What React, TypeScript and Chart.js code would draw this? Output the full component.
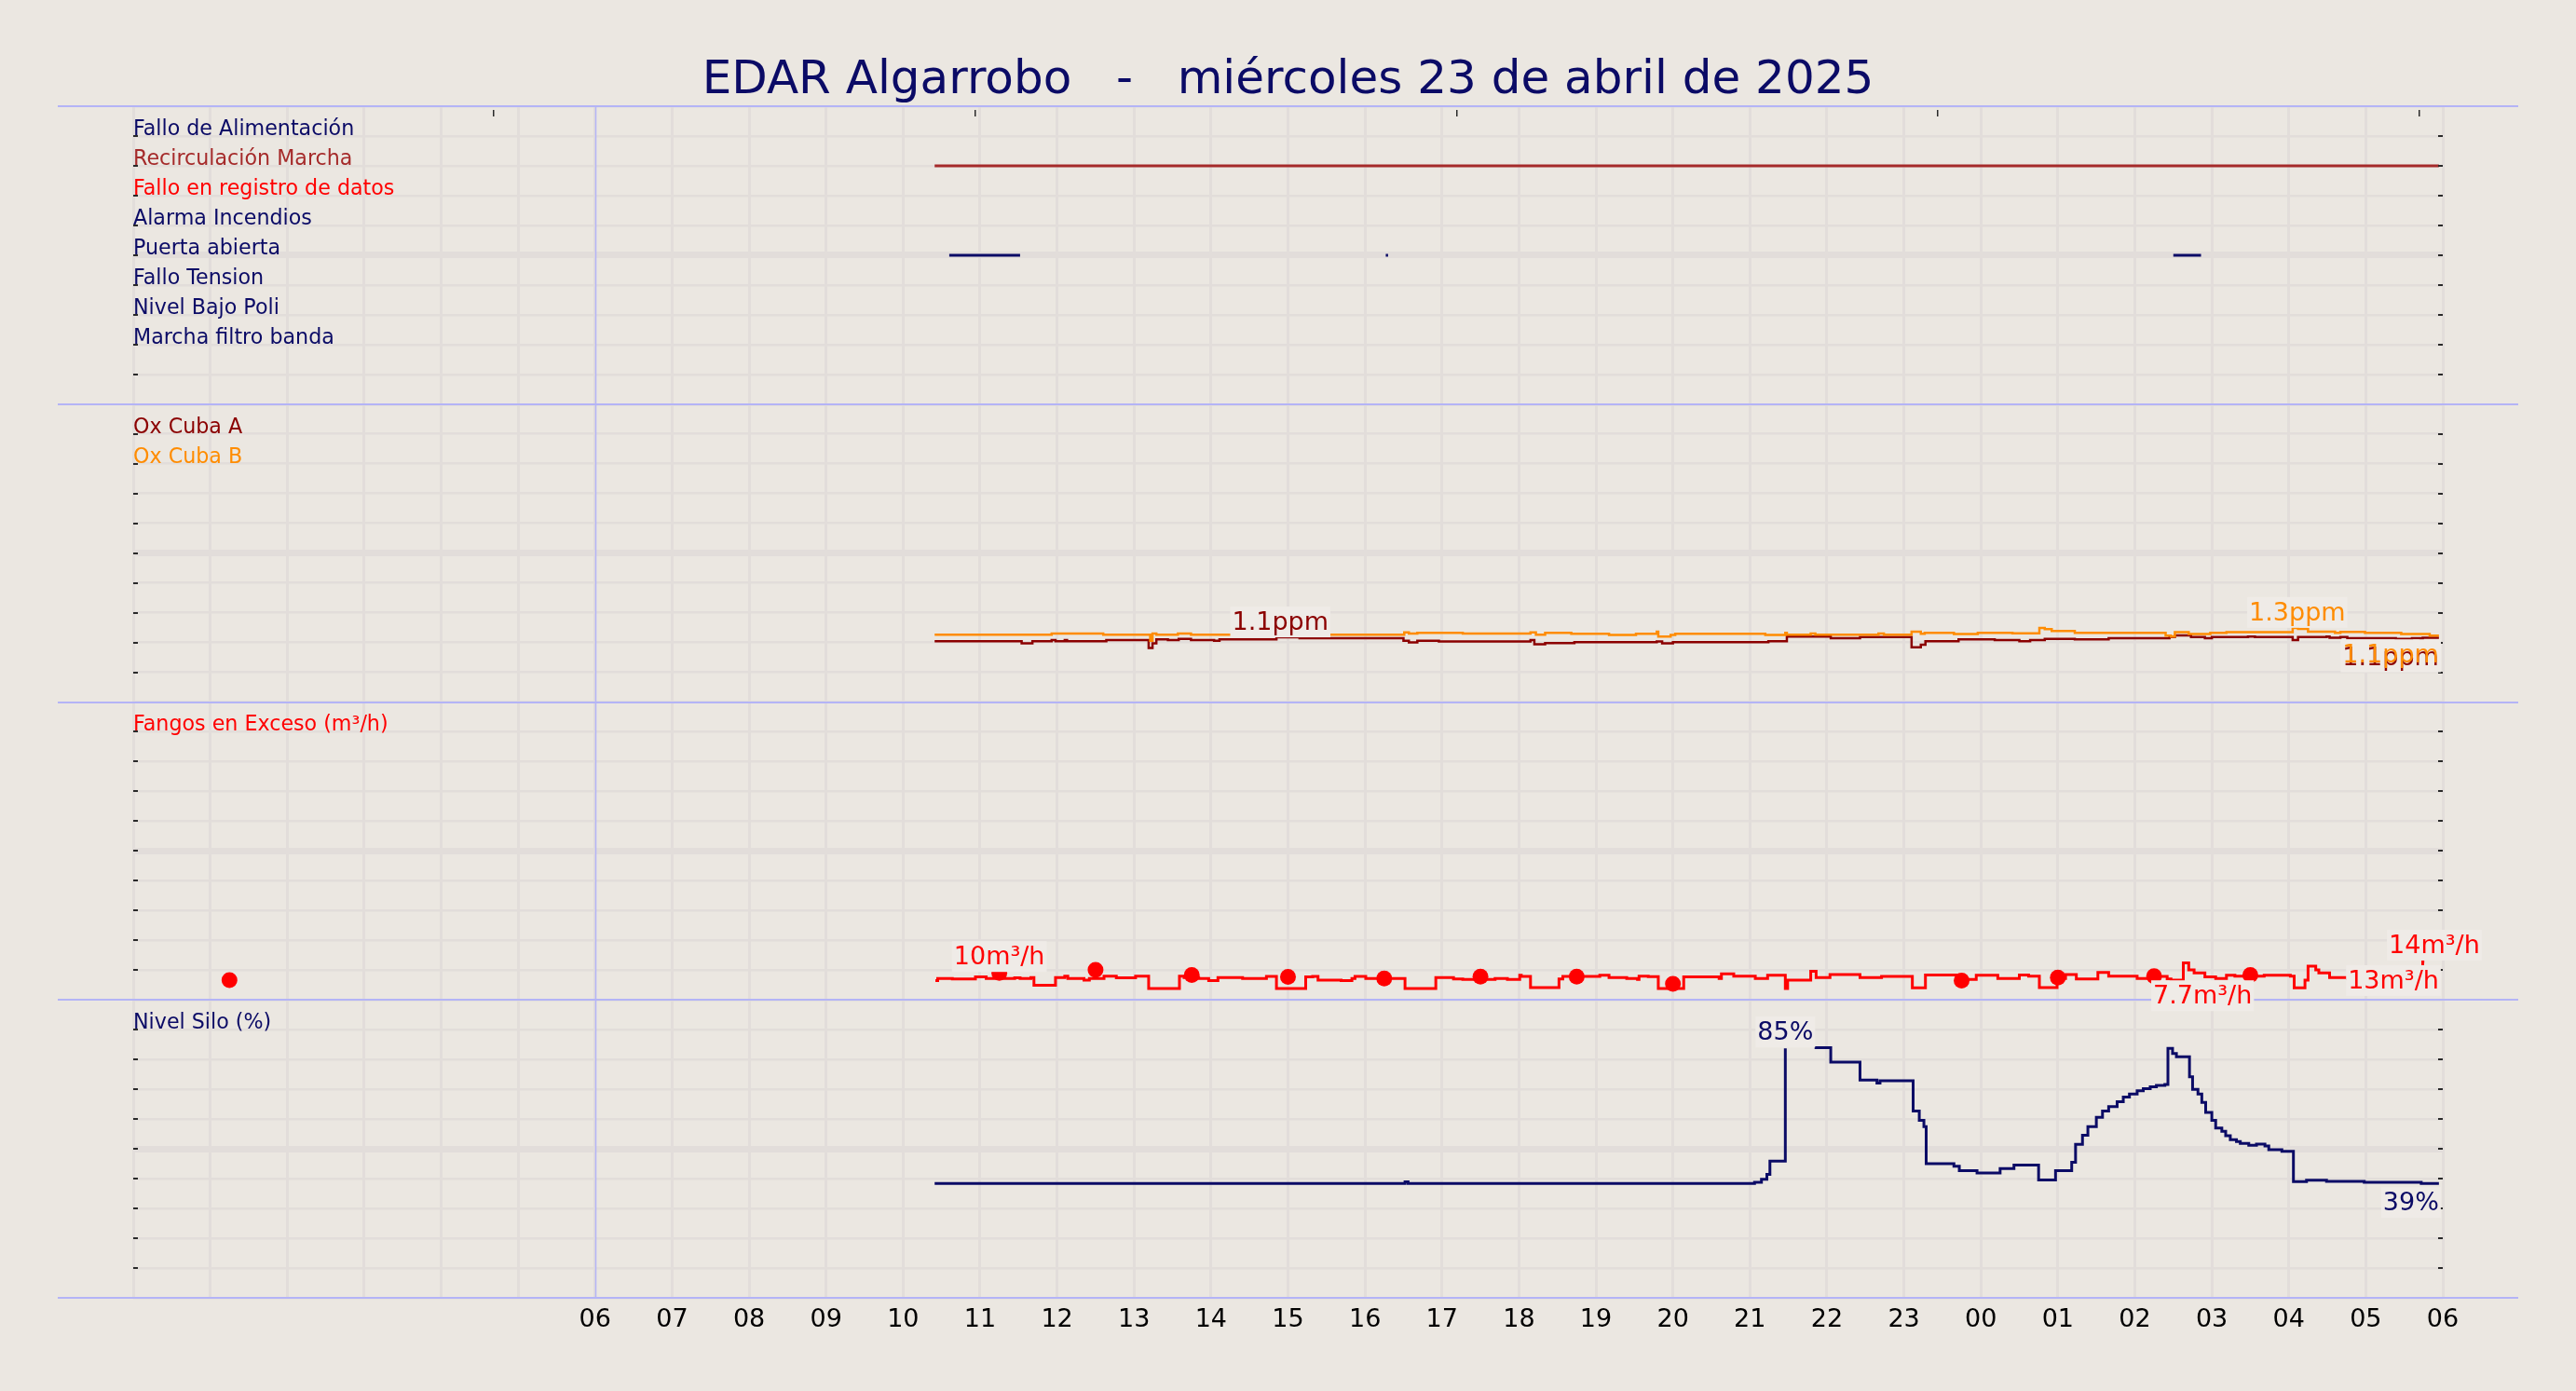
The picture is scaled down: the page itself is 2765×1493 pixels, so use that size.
import React, { useEffect, useRef } from 'react';
import { Chart, registerables } from 'chart.js';

Chart.register(...registerables);

const W = 2765;
const H = 1493;
const FONT = '"DejaVu Sans", "Liberation Sans", sans-serif';
const BG = '#ebe7e1';
const BOX = '#efebe7';
const GRID = '#e2ddda';
const LAVENDER = '#b4b4f6';
const NAVY = '#0b0b66';
const BROWN = '#a52a2a';
const RED = '#ff0000';
const DARKRED = '#8b0000';
const ORANGE = '#ff8c00';
const TICKMARK = '#2a2a2a';

const TITLE = 'EDAR Algarrobo   -   miércoles 23 de abril de 2025';

// x axis: hours counted from 00:00 of 23/04/2025
const X_MIN = 0;
const X_MAX = 30;
const FIRST_LABEL_HOUR = 6;
const DAY_MARK_HOUR = 6;
const END_HOUR = 29.95;
const FANGOS_END_HOUR = 29.76;
const TOP_TICK_HOURS = [4.68, 10.94, 17.2, 23.44, 29.7];

// ---------- Panel 1: digital signals ----------
const SIGNAL_LABELS = [
  'Fallo de Alimentación',
  'Recirculación Marcha',
  'Fallo en registro de datos',
  'Alarma Incendios',
  'Puerta abierta',
  'Fallo Tension',
  'Nivel Bajo Poli',
  'Marcha filtro banda',
];
const SIGNAL_COLORS = [NAVY, BROWN, RED, NAVY, NAVY, NAVY, NAVY, NAVY];
const SIGNAL_LEVELS = [9, 8, 7, 6, 5, 4, 3, 2];
const SIGNAL_ON: number[][][] = [
  [],
  [[10.41, 29.95]],
  [],
  [],
  [[10.6, 11.52], [16.27, 16.3], [26.5, 26.86]],
  [],
  [],
  [],
];

// ---------- Panel 2: oxygen (ppm) ----------
const OXA_T = [10.41, 11.54, 11.68, 11.93, 11.98, 12.1, 12.13, 12.64, 13.19, 13.24, 13.29, 13.44, 13.58, 13.74, 14.04, 14.11, 14.85, 15.15, 16.5, 16.57, 16.68, 16.96, 18.15, 18.2, 18.34, 18.72, 19.79, 19.86, 20.0, 21.24, 21.48, 22.05, 22.43, 23.1, 23.22, 23.28, 23.71, 24.18, 24.5, 24.64, 24.83, 25.22, 25.66, 26.45, 26.52, 26.73, 26.91, 27.0, 27.47, 27.56, 28.05, 28.12, 28.49, 28.53, 28.67, 28.76, 29.39, 29.6, 29.71, 29.74];
const OXA_V = [1.02, 0.984, 1.02, 1.04, 1.02, 1.04, 1.02, 1.04, 0.906, 0.984, 1.05, 1.04, 1.06, 1.04, 1.03, 1.05, 1.085, 1.07, 1.03, 1.0, 1.03, 1.016, 1.04, 0.97, 0.99, 1.005, 1.016, 0.984, 1.005, 1.02, 1.1, 1.07, 1.09, 0.92, 0.963, 1.02, 1.05, 1.04, 1.02, 1.04, 1.06, 1.05, 1.07, 1.09, 1.12, 1.09, 1.07, 1.09, 1.1, 1.09, 1.04, 1.09, 1.1, 1.078, 1.09, 1.07, 1.06, 1.07, 0.92, 1.078];
const OXB_T = [10.41, 11.93, 12.6, 13.21, 13.24, 13.29, 13.57, 13.74, 16.51, 16.57, 16.68, 17.27, 18.15, 18.22, 18.34, 18.68, 19.17, 19.52, 19.79, 19.81, 19.97, 20.03, 21.2, 21.46, 21.48, 21.79, 21.85, 22.67, 22.74, 23.1, 23.22, 23.27, 23.65, 23.96, 24.41, 24.76, 24.83, 24.92, 25.22, 26.4, 26.47, 26.52, 26.7, 26.98, 27.19, 28.05, 28.12, 28.25, 28.6, 28.67, 28.99, 29.46, 29.83];
const OXB_V = [1.13, 1.15, 1.13, 1.03, 1.15, 1.13, 1.15, 1.13, 1.17, 1.15, 1.16, 1.15, 1.17, 1.13, 1.16, 1.145, 1.125, 1.145, 1.18, 1.1, 1.125, 1.145, 1.125, 1.16, 1.13, 1.15, 1.13, 1.15, 1.13, 1.18, 1.145, 1.16, 1.14, 1.16, 1.155, 1.245, 1.224, 1.193, 1.161, 1.115, 1.1, 1.172, 1.141, 1.161, 1.172, 1.245, 1.229, 1.182, 1.161, 1.177, 1.161, 1.141, 1.115];

// ---------- Panel 3: excess sludge (m3/h) ----------
const FANGOS_T = [10.42, 10.45, 10.64, 10.94, 11.08, 11.45, 11.52, 11.66, 11.7, 11.98, 12.1, 12.14, 12.35, 12.42, 12.61, 12.77, 13.02, 13.19, 13.59, 13.65, 13.84, 13.97, 14.09, 14.41, 14.72, 14.85, 15.23, 15.32, 15.39, 15.69, 15.83, 15.87, 16.01, 16.52, 16.92, 17.15, 17.27, 17.69, 17.85, 18.01, 18.03, 18.15, 18.52, 18.57, 19.05, 19.17, 19.4, 19.54, 19.56, 19.68, 19.81, 20.14, 20.6, 20.63, 20.79, 21.07, 21.23, 21.46, 21.49, 21.79, 21.86, 22.04, 22.43, 22.71, 23.11, 23.28, 23.71, 23.94, 24.22, 24.5, 24.62, 24.76, 24.99, 25.1, 25.24, 25.52, 25.66, 26.03, 26.17, 26.42, 26.47, 26.63, 26.7, 26.77, 26.91, 27.05, 27.19, 27.3, 27.68, 28.02, 28.07, 28.21, 28.25, 28.35, 28.39, 28.53, 28.76, 29.04, 29.41, 29.69, 29.74];
const FANGOS_V = [7.75, 8.6, 8.4, 9.25, 8.6, 8.9, 8.6, 9.0, 5.9, 9.0, 9.6, 8.6, 8.0, 8.6, 9.6, 8.9, 9.6, 4.6, 9.6, 9.0, 8.6, 7.75, 9.0, 8.6, 9.5, 4.6, 9.25, 9.5, 8.0, 7.75, 8.6, 9.5, 8.6, 4.6, 9.0, 8.4, 8.25, 8.6, 8.25, 9.9, 9.5, 5.0, 8.4, 9.5, 9.9, 9.0, 8.6, 8.25, 9.6, 9.4, 4.6, 9.25, 8.6, 10.5, 9.6, 8.6, 9.9, 4.6, 8.0, 11.5, 9.0, 10.25, 9.0, 9.5, 4.9, 10.0, 8.25, 9.9, 8.6, 10.0, 9.6, 5.0, 8.6, 10.25, 8.4, 11.1, 9.6, 8.6, 9.5, 8.4, 8.0, 14.9, 12.1, 10.9, 9.25, 8.6, 9.9, 9.6, 9.9, 9.6, 4.9, 8.0, 13.6, 12.1, 10.9, 9.0, 8.6, 9.25, 8.9, 4.25, 15.5];
const FANGOS_DOT_T = [1.25, 11.25, 12.5, 13.75, 15.0, 16.25, 17.5, 18.75, 20.0, 23.75, 25.0, 26.25, 27.5];
const FANGOS_DOT_V = [8.0, 10.9, 12.1, 10.0, 9.25, 8.6, 9.4, 9.4, 6.5, 7.75, 9.0, 9.6, 10.0];

// ---------- Panel 4: silo level (%) ----------
// null = no data recorded (gap in the trace)
const SILO_T = [10.41, 16.52, 16.56, 21.06, 21.15, 21.22, 21.26, 21.46, 21.47, 21.84, 22.05, 22.43, 22.65, 22.69, 23.12, 23.2, 23.26, 23.29, 23.65, 23.72, 23.95, 24.25, 24.43, 24.75, 24.97, 25.18, 25.23, 25.32, 25.39, 25.5, 25.58, 25.66, 25.77, 25.85, 25.93, 26.03, 26.11, 26.2, 26.28, 26.39, 26.43, 26.49, 26.54, 26.71, 26.75, 26.82, 26.87, 26.92, 27.0, 27.05, 27.13, 27.18, 27.24, 27.32, 27.37, 27.48, 27.58, 27.69, 27.74, 27.91, 28.06, 28.23, 28.49, 28.98, 29.72];
const SILO_V: (number | null)[] = [38.4, 38.9, 38.4, 38.75, 39.8, 41.4, 45.9, 83.75, null, 84.0, 79.1, 73.1, 72.1, 72.9, 62.7, 59.6, 57.5, 45.0, 44.2, 42.7, 41.9, 43.4, 44.6, 39.6, 42.7, 45.5, 51.5, 54.6, 57.5, 60.6, 62.7, 64.2, 65.8, 67.4, 68.4, 69.5, 70.2, 70.8, 71.3, 71.6, 83.75, 82.0, 80.9, 74.2, 70.0, 68.4, 65.6, 62.2, 59.6, 57.0, 55.9, 54.4, 53.1, 52.5, 51.8, 51.25, 51.6, 51.0, 49.7, 49.2, 39.0, 39.5, 39.1, 38.75, 38.4];

// ---------- Value annotations ----------
const ANN_TEXT = ['1.1ppm', '1.3ppm', '1.1ppm', '1.1ppm', '10m³/h', '7.7m³/h', '14m³/h', '13m³/h', '85%', '39%'];
const ANN_AXIS = ['yOx', 'yOx', 'yOx', 'yOx', 'yFan', 'yFan', 'yFan', 'yFan', 'ySilo', 'ySilo'];
const ANN_X = [14.9, 28.11, 29.95, 29.95, 11.25, 26.88, 29.89, 29.95, 21.46, 29.95];
const ANN_V = [1.07, 1.23, 1.078, 1.115, 10.9, 9.4, 15.5, 15.5, 83.75, 38.4];
const ANN_COLOR = [DARKRED, ORANGE, DARKRED, ORANGE, RED, RED, RED, RED, NAVY, NAVY];
const ANN_POS = ['above', 'above', 'below', 'below', 'above', 'below', 'above', 'below', 'above', 'below'];
const ANN_ALIGN = ['center', 'center', 'right', 'right', 'center', 'center', 'center', 'right', 'center', 'right'];

// panels from top to bottom
const PANELS = ['ySig', 'yOx', 'yFan', 'ySilo'];
const PANEL_LABELS: Record<string, string[]> = {
  ySig: SIGNAL_LABELS,
  yOx: ['Ox Cuba A', 'Ox Cuba B'],
  yFan: ['Fangos en Exceso (m³/h)'],
  ySilo: ['Nivel Silo (%)'],
};
const PANEL_LABEL_COLORS: Record<string, string[]> = {
  ySig: SIGNAL_COLORS,
  yOx: [DARKRED, ORANGE],
  yFan: [RED],
  ySilo: [NAVY],
};

type Pt = { x: number; y: number | null };

function stepSeries(t: number[], v: (number | null)[], end: number = END_HOUR): Pt[] {
  const pts: Pt[] = t.map((x, i) => ({ x, y: v[i] }));
  pts.push({ x: end, y: v[v.length - 1] });
  return pts;
}

function onOffSeries(intervals: number[][], level: number): Pt[] {
  const pts: Pt[] = [];
  intervals.forEach(([a, b]) => {
    pts.push({ x: a, y: level }, { x: b, y: level }, { x: b + 0.001, y: null });
  });
  return pts;
}

function yScale(min: number, max: number, step: number, weight: number) {
  return {
    type: 'linear',
    min,
    max,
    position: 'left',
    stack: 'panels',
    stackWeight: 1,
    weight,
    ticks: { display: false, stepSize: step },
    grid: {
      color: GRID,
      lineWidth: (c: any) => (c.index === 5 ? 7 : 2.5),
      drawTicks: false,
    },
    border: { display: false },
    afterFit: (s: any) => {
      s.width = 0;
    },
  };
}

const decorPlugin = {
  id: 'decor',
  beforeDraw(chart: any) {
    const { ctx, width, height } = chart;
    ctx.save();
    ctx.fillStyle = BG;
    ctx.fillRect(0, 0, width, height);
    ctx.restore();
  },
  afterDatasetsDraw(chart: any) {
    const { ctx, chartArea: ca, scales } = chart;
    const xs = scales.x;
    ctx.save();

    // small tick marks at both sides of every panel
    ctx.fillStyle = TICKMARK;
    PANELS.forEach((id) => {
      const sc = scales[id];
      sc.ticks.forEach((t: any) => {
        const y = Math.round(sc.getPixelForValue(t.value));
        ctx.fillRect(ca.left, y - 1, 5, 2);
        ctx.fillRect(ca.right - 5, y - 1, 5, 2);
      });
    });
    // top tick marks
    TOP_TICK_HOURS.forEach((h) => {
      const px = Math.round(xs.getPixelForValue(h));
      ctx.fillRect(px - 1, ca.top + 4, 1.5, 7);
    });

    // panel boundary lines
    ctx.strokeStyle = LAVENDER;
    ctx.lineWidth = 2;
    const ys: number[] = PANELS.map((id) => scales[id].top);
    ys.push(scales[PANELS[PANELS.length - 1]].bottom);
    ys.forEach((y) => {
      ctx.beginPath();
      ctx.moveTo(ca.left - 81, Math.round(y));
      ctx.lineTo(ca.right + 81, Math.round(y));
      ctx.stroke();
    });
    // day marker line
    const dx = Math.round(xs.getPixelForValue(DAY_MARK_HOUR)) + 0.5;
    ctx.lineWidth = 1.5;
    ctx.beginPath();
    ctx.moveTo(dx, ca.top);
    ctx.lineTo(dx, ca.bottom);
    ctx.stroke();

    // title
    ctx.fillStyle = NAVY;
    ctx.font = `50px ${FONT}`;
    ctx.textAlign = 'center';
    ctx.textBaseline = 'alphabetic';
    ctx.fillText(TITLE, chart.width / 2, 100);

    // panel labels
    ctx.font = `22.2px ${FONT}`;
    ctx.textAlign = 'left';
    PANELS.forEach((id) => {
      const sc = scales[id];
      const ticks = sc.ticks;
      PANEL_LABELS[id].forEach((txt, i) => {
        const t = ticks[ticks.length - 2 - i];
        const y = sc.getPixelForValue(t.value) - 1;
        ctx.fillStyle = PANEL_LABEL_COLORS[id][i];
        ctx.fillText(txt, ca.left, y);
      });
    });

    // value annotations
    ctx.font = `27px ${FONT}`;
    const items = ANN_TEXT.map((text, i) => {
      const sc = scales[ANN_AXIS[i]];
      const px = xs.getPixelForValue(ANN_X[i]);
      const py = sc.getPixelForValue(ANN_V[i]);
      const w = ctx.measureText(text).width;
      const baseline = ANN_POS[i] === 'above' ? py - 9 : py + 29;
      const left = ANN_ALIGN[i] === 'right' ? px - w : px - w / 2;
      return { text, left, baseline, w, color: ANN_COLOR[i] };
    });
    ctx.fillStyle = BOX;
    items.forEach((it) => {
      ctx.fillRect(it.left - 2, it.baseline - 25, it.w + 4, 33);
    });
    items.forEach((it) => {
      ctx.fillStyle = it.color;
      ctx.fillText(it.text, it.left, it.baseline);
    });

    ctx.restore();
  },
};

function buildConfig(): any {
  const datasets: any[] = [];
  SIGNAL_LABELS.forEach((label, i) => {
    datasets.push({
      label,
      data: onOffSeries(SIGNAL_ON[i], SIGNAL_LEVELS[i]),
      yAxisID: 'ySig',
      borderColor: SIGNAL_COLORS[i],
      borderWidth: 3,
      stepped: true,
      pointRadius: 0,
      spanGaps: false,
    });
  });
  datasets.push({
    label: 'Ox Cuba B',
    data: stepSeries(OXB_T, OXB_V),
    yAxisID: 'yOx',
    borderColor: ORANGE,
    borderWidth: 2.5,
    stepped: true,
    pointRadius: 0,
    order: 1,
  });
  datasets.push({
    label: 'Ox Cuba A',
    data: stepSeries(OXA_T, OXA_V),
    yAxisID: 'yOx',
    borderColor: DARKRED,
    borderWidth: 2.5,
    stepped: true,
    pointRadius: 0,
    order: 2,
  });
  datasets.push({
    label: 'Fangos muestras',
    data: FANGOS_DOT_T.map((x, i) => ({ x, y: FANGOS_DOT_V[i] })),
    yAxisID: 'yFan',
    showLine: false,
    pointRadius: 8.5,
    pointBackgroundColor: RED,
    pointBorderWidth: 0,
    borderColor: RED,
    order: 0,
  });
  datasets.push({
    label: 'Fangos en Exceso (m³/h)',
    data: stepSeries(FANGOS_T, FANGOS_V, FANGOS_END_HOUR),
    yAxisID: 'yFan',
    borderColor: RED,
    borderWidth: 3,
    stepped: true,
    pointRadius: 0,
    order: 1,
  });
  datasets.push({
    label: 'Nivel Silo (%)',
    data: stepSeries(SILO_T, SILO_V),
    yAxisID: 'ySilo',
    borderColor: NAVY,
    borderWidth: 3,
    stepped: true,
    pointRadius: 0,
    spanGaps: false,
  });

  return {
    type: 'line',
    data: { datasets },
    options: {
      animation: false,
      responsive: false,
      maintainAspectRatio: false,
      devicePixelRatio: 1,
      layout: { padding: { left: 143, right: 143, top: 114, bottom: 0 } },
      plugins: {
        legend: { display: false },
        tooltip: { enabled: false },
        title: { display: false },
      },
      elements: { point: { radius: 0 }, line: { tension: 0 } },
      scales: {
        x: {
          type: 'linear',
          min: X_MIN,
          max: X_MAX,
          position: 'bottom',
          ticks: {
            stepSize: 1,
            autoSkip: false,
            maxRotation: 0,
            color: '#000000',
            font: { family: FONT, size: 27 },
            padding: 8,
            callback: (v: any) => {
              const n = Number(v);
              if (n < FIRST_LABEL_HOUR || !Number.isInteger(n)) return '';
              return String(n % 24).padStart(2, '0');
            },
          },
          grid: { color: GRID, lineWidth: 3, drawTicks: false },
          border: { display: false },
          afterFit: (s: any) => {
            s.height = 100;
          },
        },
        ySilo: yScale(0, 100, 10, 1),
        yFan: yScale(0, 120, 12, 2),
        yOx: yScale(0, 5, 0.5, 3),
        ySig: yScale(0, 10, 1, 4),
      },
    },
    plugins: [decorPlugin],
  };
}

export default function App() {
  const ref = useRef<HTMLCanvasElement>(null);
  useEffect(() => {
    document.body.style.margin = '0';
    document.body.style.background = BG;
    const chart = new Chart(ref.current as HTMLCanvasElement, buildConfig());
    return () => chart.destroy();
  }, []);
  return (
    <canvas
      ref={ref}
      width={W}
      height={H}
      style={{ display: 'block', width: W + 'px', height: H + 'px' }}
    />
  );
}
